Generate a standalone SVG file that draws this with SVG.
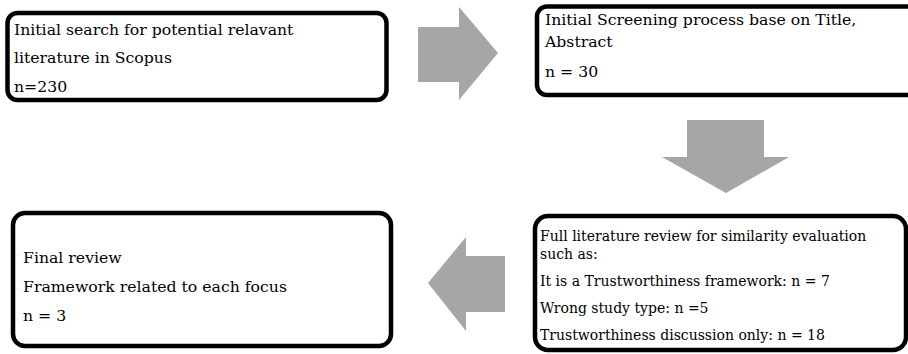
<svg xmlns="http://www.w3.org/2000/svg" width="908" height="354" viewBox="0 0 908 354">
<style>
.box{fill:#ffffff;stroke:#000000;stroke-width:4.5}
.arrow{fill:#a6a6a6;stroke:none}
.t{font-family:"DejaVu Serif","Liberation Serif",serif;font-size:15.7px;fill:#000000}
.s{font-family:"DejaVu Serif","Liberation Serif",serif;font-size:14px;fill:#000000}
</style>
<rect width="908" height="354" fill="#ffffff"/>
<g id="connectors">
<polygon class="arrow" points="418,27 459,27 459,7 498,53 459,100 459,82 418,82"/>
<polygon class="arrow" points="687,120 764,120 764,157 789,157 726,193 662,157 687,157"/>
<polygon class="arrow" points="505,256 466,256 466,237 428,283 466,331 466,312 505,312"/>
</g>
<g id="node1">
<rect class="box" x="7.5" y="13" width="379" height="87" rx="10"/>
<text class="t" x="14" y="35">Initial search for potential relavant</text>
<text class="t" x="14" y="63">literature in Scopus</text>
<text class="t" x="14" y="92">n=230</text>
</g>
<g id="node2">
<rect class="box" x="537" y="6.5" width="380" height="88.5" rx="10"/>
<text class="t" x="545" y="25">Initial Screening process base on Title,</text>
<text class="t" x="545" y="47">Abstract</text>
<text class="t" x="545" y="77">n = 30</text>
</g>
<g id="node3">
<rect class="box" x="13" y="213" width="378" height="133" rx="12"/>
<text class="t" x="23" y="263">Final review</text>
<text class="t" x="23" y="292">Framework related to each focus</text>
<text class="t" x="23" y="321">n = 3</text>
</g>
<g id="node4">
<rect class="box" x="535" y="216" width="371" height="134" rx="13"/>
<text class="s" x="540" y="241">Full literature review for similarity evaluation</text>
<text class="s" x="540" y="259">such as:</text>
<text class="s" x="540" y="286">It is a Trustworthiness framework: n = 7</text>
<text class="s" x="540" y="313">Wrong study type: n =5</text>
<text class="s" x="540" y="340">Trustworthiness discussion only: n = 18</text>
</g>
</svg>
